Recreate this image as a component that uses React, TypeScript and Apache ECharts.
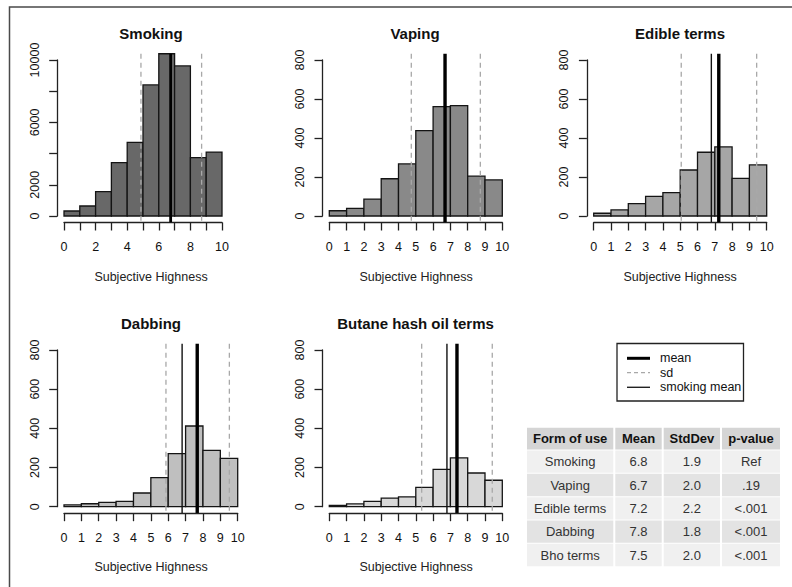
import React, { useEffect, useRef } from "react";
import * as echarts from "echarts";

// ---------------- data ----------------
const binStarts = [0, 1, 2, 3, 4, 5, 6, 7, 8, 9];
const smokingCounts = [320, 640, 1560, 3420, 4720, 8400, 10400, 9620, 3740, 4100];
const vapingCounts = [27, 39, 87, 191, 267, 438, 561, 566, 204, 185];
const edibleCounts = [14, 31, 63, 101, 120, 236, 327, 354, 193, 262];
const dabbingCounts = [9, 15, 22, 27, 70, 148, 271, 412, 288, 247];
const bhoCounts = [7, 14, 27, 44, 50, 99, 191, 249, 172, 135];

const panelTitles = ["Smoking", "Vaping", "Edible terms", "Dabbing", "Butane hash oil terms"];
const panelCounts = [smokingCounts, vapingCounts, edibleCounts, dabbingCounts, bhoCounts];
const panelYMax = [10000, 800, 800, 800, 800];
const panelYStep = [2000, 200, 200, 200, 200];
const smokingYLabels = [0, 2000, 6000, 10000];
const xTickLabelsSmoking = [0, 2, 4, 6, 8, 10];

const meanLines = [6.75, 6.69, 7.23, 7.67, 7.38];
const sdLowLines = [4.87, 4.74, 5.06, 5.87, 5.34];
const sdHighLines = [8.71, 8.73, 9.42, 9.52, 9.42];
const smokingMeanLines = [null, null, 6.8, 6.8, 6.8];

const xAxisTitle = "Subjective Highness";
const legendLabels = ["mean", "sd", "smoking mean"];

const tableHeader = ["Form of use", "Mean", "StdDev", "p-value"];
const tableForms = ["Smoking", "Vaping", "Edible terms", "Dabbing", "Bho terms"];
const tableMeans = ["6.8", "6.7", "7.2", "7.8", "7.5"];
const tableSds = ["1.9", "2.0", "2.2", "1.8", "2.0"];
const tablePvals = ["Ref", ".19", "<.001", "<.001", "<.001"];

// ---------------- layout / style ----------------
const FONT = '"Liberation Sans", Arial, sans-serif';
const barColors = ["#686868", "#898989", "#a6a6a6", "#bfbfbf", "#d8d8d8"];
const grids = [
  { left: 64, top: 60, width: 158, height: 156 },
  { left: 329.3, top: 60, width: 173, height: 156 },
  { left: 593.7, top: 60, width: 173, height: 156 },
  { left: 64, top: 350, width: 173.7, height: 156.7 },
  { left: 329.3, top: 350, width: 173, height: 156.7 },
];
const titlePos = [
  [151, 33],
  [415, 33],
  [680, 33],
  [151, 323],
  [415.5, 323],
];
const xNamePos = [
  [151, 277],
  [416, 277],
  [680, 277],
  [151, 567],
  [416, 567],
];

export default function App() {
  const ref = useRef<HTMLDivElement>(null);

  useEffect(() => {
    document.body.style.margin = "0";
    if (!ref.current) return;
    const chart = echarts.init(ref.current, undefined, { renderer: "svg" });

    const xAxes: any[] = [];
    const yAxes: any[] = [];
    const series: any[] = [];

    panelCounts.forEach((counts, k) => {
      const ymax = panelYMax[k];
      xAxes.push({
        gridIndex: k,
        type: "value",
        min: 0,
        max: 10,
        interval: 1,
        offset: 6.5,
        axisLine: { show: true, onZero: false, lineStyle: { color: "#222", width: 1.3 } },
        axisTick: { show: true, length: 8, lineStyle: { color: "#222", width: 1.3 } },
        axisLabel: {
          margin: 18,
          fontSize: 12.5,
          color: "#111",
          fontFamily: FONT,
          formatter: (v: number) =>
            k === 0 ? (xTickLabelsSmoking.indexOf(v) >= 0 ? String(v) : "") : String(v),
        },
        splitLine: { show: false },
      });
      yAxes.push({
        gridIndex: k,
        type: "value",
        min: 0,
        max: ymax,
        interval: panelYStep[k],
        offset: 6.8,
        axisLine: { show: true, onZero: false, lineStyle: { color: "#222", width: 1.3 } },
        axisTick: { show: true, length: 8, lineStyle: { color: "#222", width: 1.3 } },
        axisLabel: {
          rotate: 90,
          margin: 16,
          fontSize: 12.5,
          color: "#111",
          fontFamily: FONT,
          formatter: (v: number) =>
            k === 0 ? (smokingYLabels.indexOf(v) >= 0 ? String(v) : "") : String(v),
        },
        splitLine: { show: false },
      });

      series.push({
        type: "custom",
        xAxisIndex: k,
        yAxisIndex: k,
        data: binStarts.map((b, i) => [b, counts[i]]),
        encode: { x: 0, y: 1 },
        renderItem: (_p: any, api: any) => {
          const x0 = api.value(0);
          const v = api.value(1);
          const a = api.coord([x0, 0]);
          const b = api.coord([x0 + 1, v]);
          return {
            type: "rect",
            shape: { x: a[0], y: b[1], width: b[0] - a[0], height: a[1] - b[1] },
            style: { fill: barColors[k], stroke: "#141414", lineWidth: 1.3 },
          };
        },
        z: 2,
      });

      const lineData: any[] = [];
      if (smokingMeanLines[k] !== null) lineData.push([smokingMeanLines[k], 2]);
      lineData.push([sdLowLines[k], 1]);
      lineData.push([sdHighLines[k], 1]);
      lineData.push([meanLines[k], 0]);
      series.push({
        type: "custom",
        xAxisIndex: k,
        yAxisIndex: k,
        data: lineData,
        encode: { x: 0 },
        clip: false,
        renderItem: (_p: any, api: any) => {
          const x = api.value(0);
          const kind = api.value(1);
          const top = api.coord([x, ymax * 1.04]);
          const bot = api.coord([x, -ymax * 0.04]);
          const style =
            kind === 0
              ? { stroke: "#000", lineWidth: k === 0 ? 2.8 : 3.4 }
              : kind === 1
              ? { stroke: "#a8a8a8", lineWidth: 1.3, lineDash: [5, 4] }
              : { stroke: "#111", lineWidth: 1.4 };
          return {
            type: "line",
            shape: { x1: top[0], y1: top[1], x2: bot[0], y2: bot[1] },
            style,
          };
        },
        z: 3,
      });
    });

    const graphics: any[] = [];
    // outer frame
    graphics.push({
      type: "polyline",
      shape: { points: [[9.5, 587], [9.5, 7], [792, 7]] },
      style: { stroke: "#4a4a4a", lineWidth: 1.5, fill: null },
    });
    panelTitles.forEach((t, k) => {
      graphics.push({
        type: "text",
        x: titlePos[k][0],
        y: titlePos[k][1],
        style: {
          text: t,
          font: `bold 15px ${FONT}`,
          fill: "#111",
          textAlign: "center",
          textVerticalAlign: "middle",
        },
      });
      graphics.push({
        type: "text",
        x: xNamePos[k][0],
        y: xNamePos[k][1],
        style: {
          text: xAxisTitle,
          font: `12.5px ${FONT}`,
          fill: "#222",
          textAlign: "center",
          textVerticalAlign: "middle",
        },
      });
    });

    // legend
    graphics.push({
      type: "rect",
      shape: { x: 617, y: 343.5, width: 126.5, height: 57.5 },
      style: { fill: "#fff", stroke: "#222", lineWidth: 1.3 },
    });
    const legendY = [358.3, 372.7, 387.3];
    const legendStyles: any[] = [
      { stroke: "#000", lineWidth: 3 },
      { stroke: "#a8a8a8", lineWidth: 1.3, lineDash: [4, 3] },
      { stroke: "#222", lineWidth: 1.4 },
    ];
    legendLabels.forEach((lab, i) => {
      graphics.push({
        type: "line",
        shape: { x1: 627, y1: legendY[i], x2: 650, y2: legendY[i] },
        style: legendStyles[i],
      });
      graphics.push({
        type: "text",
        x: 660,
        y: legendY[i],
        style: {
          text: lab,
          font: `12.5px ${FONT}`,
          fill: "#111",
          textAlign: "left",
          textVerticalAlign: "middle",
        },
      });
    });

    // table
    const colEdges = [526, 614.3, 662.7, 721, 781];
    const rowEdges = [427.3, 450, 473.3, 496.7, 520, 543.3, 566.7];
    const rows = [tableHeader].concat(
      tableForms.map((f, i) => [f, tableMeans[i], tableSds[i], tablePvals[i]])
    );
    rows.forEach((row, r) => {
      const fill = r === 0 ? "#d5d5d5" : r % 2 === 1 ? "#f0f0f0" : "#e3e3e3";
      row.forEach((cell, c) => {
        const x0 = colEdges[c];
        const x1 = colEdges[c + 1];
        const y0 = rowEdges[r];
        const y1 = rowEdges[r + 1];
        graphics.push({
          type: "rect",
          shape: { x: x0 + 1, y: y0 + 0.5, width: x1 - x0 - 2, height: y1 - y0 - 1 },
          style: { fill },
        });
        graphics.push({
          type: "text",
          x: (x0 + x1) / 2,
          y: (y0 + y1) / 2,
          style: {
            text: cell,
            font: r === 0 ? `bold 13px ${FONT}` : `13px ${FONT}`,
            fill: r === 0 ? "#111" : "#333",
            textAlign: "center",
            textVerticalAlign: "middle",
          },
        });
      });
    });

    chart.setOption({
      animation: false,
      backgroundColor: "#fff",
      textStyle: { fontFamily: FONT },
      grid: grids.map((g) => ({ ...g, containLabel: false })),
      xAxis: xAxes,
      yAxis: yAxes,
      series,
      graphic: graphics,
    });

    return () => chart.dispose();
  }, []);

  return <div ref={ref} style={{ width: 792, height: 587 }} />;
}
